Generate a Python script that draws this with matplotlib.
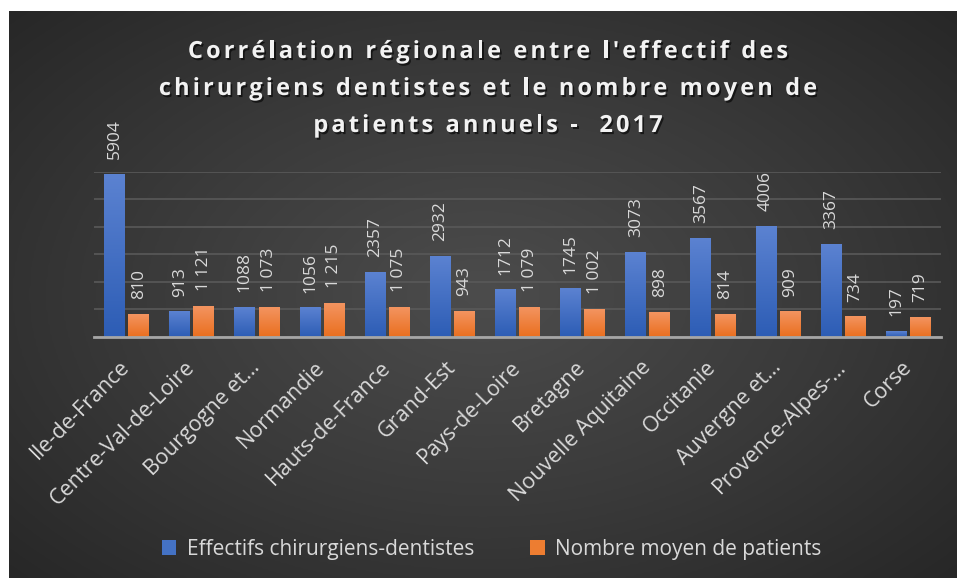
import numpy as np
import matplotlib
matplotlib.use("Agg")
import matplotlib.pyplot as plt
import matplotlib.patheffects as pe
from matplotlib.colors import LinearSegmentedColormap
from matplotlib.font_manager import FontProperties, findfont
from matplotlib.ft2font import FT2Font
from matplotlib.patches import Patch

regions = ["Ile-de-France", "Centre-Val-de-Loire", "Bourgogne et…", "Normandie",
           "Hauts-de-France", "Grand-Est", "Pays-de-Loire", "Bretagne",
           "Nouvelle Aquitaine", "Occitanie", "Auvergne et…", "Provence-Alpes-…",
           "Corse"]
effectifs = [5904, 913, 1088, 1056, 2357, 2932, 1712, 1745, 3073, 3567, 4006, 3367, 197]
patients = [810, 1121, 1073, 1215, 1075, 943, 1079, 1002, 898, 814, 909, 734, 719]

title_lines = ["Corrélation régionale entre l'effectif des",
               "chirurgiens dentistes et le nombre moyen de",
               "patients annuels -  2017"]

W, H = 957, 578
FONT = "Open Sans"
LABEL = "#d9d9d9"

fig = plt.figure(figsize=(W / 100, H / 100), dpi=100)
fig.patch.set_facecolor("white")

# dark background with radial gradient
bg = fig.add_axes([9 / W, 0, (W - 9) / W, (H - 11) / H])
bg.set_axis_off()
yy, xx = np.mgrid[-1:1:300j, -1:1:500j]
r = np.sqrt((xx * 0.95) ** 2 + (yy * 0.9) ** 2)
bg_cmap = LinearSegmentedColormap.from_list("bg", ["#4c4c4c", "#3a3a3a", "#262626"])
bg.imshow(r, cmap=bg_cmap, aspect="auto", vmin=0, vmax=1.35, interpolation="bicubic")

ax = fig.add_axes([94 / W, 1 - 337 / H, (941 - 94) / W, (337 - 171.7) / H])
ax.patch.set_alpha(0)

x = np.arange(len(regions))
bw = 0.32
off = 0.185
b1 = ax.bar(x - off, effectifs, bw, color="#4472c4", zorder=3)
b2 = ax.bar(x + off, patients, bw, color="#ed7d31", zorder=3)

blue_cmap = LinearSegmentedColormap.from_list("b", ["#2d5db5", "#5b82d1"])
orange_cmap = LinearSegmentedColormap.from_list("o", ["#ea6f1f", "#f39460"])
grad = np.linspace(0, 1, 64).reshape(-1, 1)
for bars, cm in ((b1, blue_cmap), (b2, orange_cmap)):
    for b in bars:
        x0, w, h = b.get_x(), b.get_width(), b.get_height()
        ax.imshow(grad, extent=[x0, x0 + w, 0, h], origin="lower", aspect="auto",
                  cmap=cm, zorder=3)
        b.set_visible(False)

ax.set_xlim(-0.5, len(regions) - 0.5)
ax.set_ylim(0, 6000)
ax.set_yticks(range(0, 7000, 1000))
ax.yaxis.grid(True, color="#595959", linewidth=1.2, zorder=0)
ax.set_axisbelow(True)
ax.tick_params(left=False, bottom=False, labelleft=False)
for s in ["top", "right", "left"]:
    ax.spines[s].set_visible(False)
ax.spines["bottom"].set_color("#a6a6a6")
ax.spines["bottom"].set_linewidth(2)
ax.spines["bottom"].set_zorder(4)

ax.set_xticks(x)
ax.set_xticklabels(regions, rotation=45, ha="right", va="center",
                   rotation_mode="anchor", fontsize=15.5, color=LABEL,
                   family=FONT)
ax.tick_params(axis="x", pad=16)

for xi, v in zip(x, effectifs):
    ax.annotate(str(v), (xi - off, v), xytext=(0, 11), textcoords="offset points",
                rotation=90, ha="center", va="bottom", fontsize=12.5,
                color=LABEL, family=FONT, annotation_clip=False)
for xi, v in zip(x, patients):
    lab = f"{v:,}".replace(",", " ")
    ax.annotate(lab, (xi + off, v), xytext=(0, 11), textcoords="offset points",
                rotation=90, ha="center", va="bottom", fontsize=12.5,
                color=LABEL, family=FONT, annotation_clip=False)

# title with letter spacing
fp = FontProperties(family=FONT, weight="bold", size=17)
ft = FT2Font(findfont(fp))
ft.set_size(17, 100)
track = 3.1
shadow = [pe.withSimplePatchShadow(offset=(1.2, -1.5), shadow_rgbFace="black", alpha=0.6)]
baselines = [58, 95, 132]
for line, yb in zip(title_lines, baselines):
    adv = []
    for c in line:
        g = ft.load_char(ord(c))
        adv.append(g.linearHoriAdvance / 65536)
    total = sum(adv) + track * (len(line) - 1)
    xp = 488 - total / 2
    for c, a in zip(line, adv):
        if c != " ":
            fig.text(xp / W, 1 - yb / H, c, fontproperties=fp, color="#f2f2f2",
                     ha="left", va="baseline", path_effects=shadow)
        xp += a + track

handles = [Patch(facecolor="#4472c4", label="Effectifs chirurgiens-dentistes"),
           Patch(facecolor="#ed7d31", label="Nombre moyen de patients")]
fig.legend(handles=handles, loc="center", bbox_to_anchor=(491.5 / W, 1 - 549 / H),
           ncol=2, frameon=False, handlelength=0.7, handleheight=0.7,
           handletextpad=0.5, columnspacing=2.7, labelcolor=LABEL,
           prop={"family": FONT, "size": 15})

fig.savefig("out.png", dpi=100, facecolor=fig.get_facecolor())
